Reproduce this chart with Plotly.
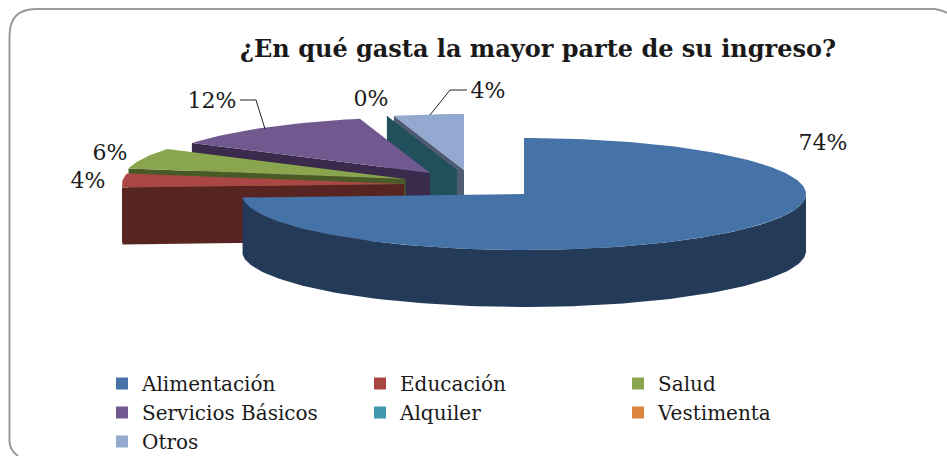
import math
import plotly.graph_objects as go

categories = ["Alimentación", "Educación", "Salud", "Servicios Básicos", "Alquiler", "Vestimenta", "Otros"]
values = [74, 4, 6, 12, 0, 0, 4]
top_colors = ["#4572A7", "#AA4643", "#89A54E", "#71588F", "#4198AF", "#DB843D", "#93A9CF"]
side_colors = ["#243A59", "#582422", "#4A5A27", "#3A2A4C", "#214F5C", "#7A4A20", "#4F5B73"]

W, H = 947, 456
RX, RY, DEPTH = 282, 56, 57
SERIF = "DejaVu Serif, serif"
INK = "#1a1a1a"
# exploded centre of each slice, in chart pixels
centres = [(524, 194), (404, 184), (405.5, 179), (430, 173), (457, 170), (457, 170), (464, 170)]
# data-label anchor (x, y) for each visible label; Vestimenta has none
label_at = {0: (823, 144), 1: (88, 182), 2: (110, 154), 3: (212, 102), 4: (371, 100), 6: (488, 92)}


def pt(c, deg):
    t = math.radians(deg)
    return c[0] + RX * math.sin(t), c[1] - RY * math.cos(t)


def arc(c, a0, a1, step=1.5):
    n = max(1, int(abs(a1 - a0) / step))
    return [pt(c, a0 + (a1 - a0) * i / n) for i in range(n + 1)]


def poly(points, color):
    xs = [p[0] for p in points] + [points[0][0]]
    ys = [p[1] for p in points] + [points[0][1]]
    return go.Scatter(x=xs, y=ys, mode="lines", fill="toself", fillcolor=color,
                      line=dict(width=0, color=color), showlegend=False, hoverinfo="skip")


spans, run = [], 0.0
for v in values:
    spans.append((run * 3.6, (run + v) * 3.6))
    run += v

fig = go.Figure()
# painter's order: back slices first, the large front slice last
for i in [6, 5, 4, 3, 2, 1, 0]:
    if i == 5:
        continue
    c, (a0, a1) = centres[i], spans[i]
    if i == 0:
        edge = arc(c, 90, a1)
    elif a0 < 270:
        edge = [c] + arc(c, a0, min(a1, 270))
    else:
        edge = [c, pt(c, a0)]
    fig.add_trace(poly(edge + [(x, y + DEPTH) for x, y in reversed(edge)], side_colors[i]))
    if a1 > a0:
        fig.add_trace(poly([c] + arc(c, a0, a1), top_colors[i]))

# leader lines
fig.add_trace(go.Scatter(x=[240, 256, 265], y=[100, 100, 129], mode="lines",
                         line=dict(color="#222222", width=1), showlegend=False, hoverinfo="skip"))
fig.add_trace(go.Scatter(x=[467, 450, 430], y=[90, 90, 115], mode="lines",
                         line=dict(color="#222222", width=1), showlegend=False, hoverinfo="skip"))

# data labels
idx = list(label_at)
fig.add_trace(go.Scatter(x=[label_at[i][0] for i in idx], y=[label_at[i][1] for i in idx],
                         text=[f"{values[i]}%" for i in idx], mode="text", textposition="middle center",
                         textfont=dict(family=SERIF, size=22, color=INK),
                         showlegend=False, hoverinfo="skip"))

# legend entries
for name, color in zip(categories, top_colors):
    fig.add_trace(go.Scatter(x=[None], y=[None], mode="markers", name=name,
                             marker=dict(symbol="square", size=12, color=color)))

fig.update_layout(
    width=W, height=H, autosize=False,
    margin=dict(l=0, r=0, t=0, b=0, autoexpand=False),
    paper_bgcolor="white", plot_bgcolor="white",
    xaxis=dict(range=[0, W], visible=False, fixedrange=True),
    yaxis=dict(range=[H, 0], visible=False, fixedrange=True),
    title=dict(text="<b>¿En qué gasta la mayor parte de su ingreso?</b>",
               x=538 / W, xanchor="center", xref="paper",
               y=1 - 49 / H, yanchor="middle", yref="paper",
               font=dict(family=SERIF, size=24, color=INK)),
    legend=dict(orientation="h", x=102 / W, xanchor="left", y=1 - 364 / H, yanchor="top",
                entrywidth=213, entrywidthmode="pixels", itemclick=False, itemdoubleclick=False,
                font=dict(family=SERIF, size=20, color=INK), bgcolor="rgba(0,0,0,0)"),
    shapes=[dict(type="path", xref="x", yref="y",
                 path="M 18 456 Q 9.5 450 9.5 441 L 9.5 36 Q 9.5 9 36 9 L 935 9 Q 942 10 947 13",
                 line=dict(color="#999999", width=2))],
)
fig.write_html("out.html", config={"displayModeBar": False},
               post_script="document.body.style.margin='0';document.body.style.overflow='hidden';")
